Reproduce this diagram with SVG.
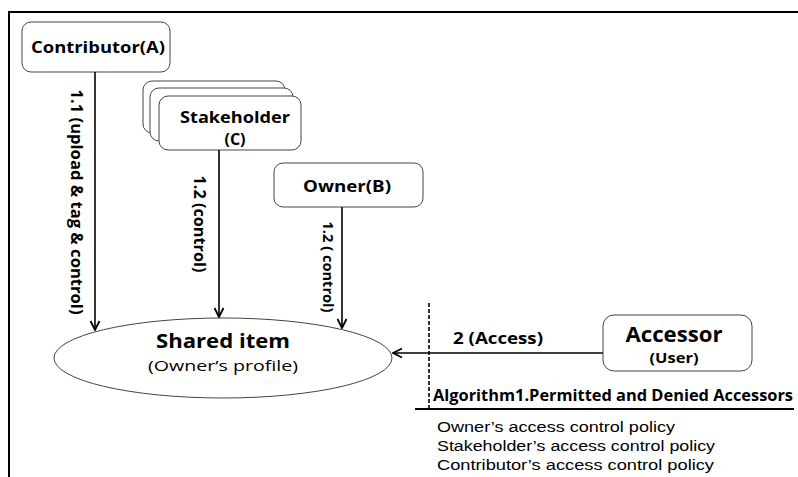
<svg xmlns="http://www.w3.org/2000/svg" width="798" height="477" viewBox="0 0 798 477">
<style>
.box{fill:#fff;stroke:#444;stroke-width:1}
.b{font-family:"Open Sans","Liberation Sans",sans-serif;font-weight:bold;fill:#000}
.r{font-family:"Open Sans","Liberation Sans",sans-serif;fill:#000}
.p{font-family:"Liberation Sans","Open Sans",sans-serif;fill:#000;font-size:15.5px}
.ln{stroke:#000;stroke-width:1.6;fill:none}
</style>
<defs>
<marker id="ah" markerWidth="12" markerHeight="12" viewBox="0 0 12 12" refX="11" refY="6" orient="auto" markerUnits="userSpaceOnUse">
<path d="M2,1.5 L11,6 L2,10.5" fill="none" stroke="#000" stroke-width="1.8"/>
</marker>
</defs>
<rect width="798" height="477" fill="#fff"/>
<g id="frame">
<line x1="8" y1="12" x2="798" y2="12" stroke="#000" stroke-width="2"/>
<line x1="9" y1="12" x2="9" y2="477" stroke="#000" stroke-width="2"/>
</g>
<g id="contributor">
<rect class="box" x="22" y="22" width="148" height="50" rx="9"/>
<text class="b" x="98" y="53" font-size="16" text-anchor="middle" textLength="134" lengthAdjust="spacingAndGlyphs">Contributor(A)</text>
</g>
<g id="stakeholder">
<rect class="box" x="143" y="81" width="142" height="52" rx="9"/>
<rect class="box" x="150" y="88" width="143" height="53" rx="9"/>
<rect class="box" x="159" y="96" width="142" height="54" rx="9"/>
<text class="b" x="235" y="123" font-size="16" text-anchor="middle" textLength="110" lengthAdjust="spacingAndGlyphs">Stakeholder</text>
<text class="b" x="235" y="145" font-size="16" text-anchor="middle">(C)</text>
</g>
<g id="owner">
<rect class="box" x="274" y="163" width="149" height="44" rx="9"/>
<text class="b" x="347" y="192" font-size="16" text-anchor="middle" textLength="88" lengthAdjust="spacingAndGlyphs">Owner(B)</text>
</g>
<g id="shared">
<ellipse cx="223" cy="358" rx="169" ry="40" fill="#fff" stroke="#444" stroke-width="1"/>
<text class="b" x="223" y="348" font-size="20" text-anchor="middle" textLength="134" lengthAdjust="spacingAndGlyphs">Shared item</text>
<text class="r" x="223" y="371" font-size="15" text-anchor="middle" textLength="150" lengthAdjust="spacingAndGlyphs">(Owner’s profile)</text>
</g>
<g id="accessor">
<rect class="box" x="603" y="315" width="149" height="56" rx="11"/>
<text class="b" x="674" y="342" font-size="21" text-anchor="middle" textLength="97" lengthAdjust="spacingAndGlyphs">Accessor</text>
<text class="b" x="674" y="363" font-size="15" text-anchor="middle" textLength="49" lengthAdjust="spacingAndGlyphs">(User)</text>
</g>
<g id="connectors">
<line class="ln" x1="95" y1="72" x2="95" y2="330" marker-end="url(#ah)"/>
<line class="ln" x1="219" y1="150" x2="219" y2="317" marker-end="url(#ah)"/>
<line class="ln" x1="342" y1="207" x2="342" y2="328" marker-end="url(#ah)"/>
<line class="ln" x1="603" y1="353" x2="393" y2="353" marker-end="url(#ah)"/>
<text class="b" font-size="16" text-anchor="middle" transform="translate(71,202) rotate(90)" textLength="225" lengthAdjust="spacingAndGlyphs">1.1 (upload &amp; tag &amp; control)</text>
<text class="b" font-size="16" text-anchor="middle" transform="translate(194,224) rotate(90)" textLength="97" lengthAdjust="spacingAndGlyphs">1.2 (control)</text>
<text class="b" font-size="15" text-anchor="middle" transform="translate(323,267) rotate(90)" textLength="91" lengthAdjust="spacingAndGlyphs">1.2 ( control)</text>
<text class="b" x="453" y="344" font-size="16" textLength="90" lengthAdjust="spacingAndGlyphs">2 (Access)</text>
</g>
<g id="algorithm">
<line x1="429" y1="303" x2="429" y2="410" stroke="#000" stroke-width="1.6" stroke-dasharray="4,2"/>
<line x1="415" y1="409" x2="794" y2="409" stroke="#000" stroke-width="2"/>
<text class="b" x="433" y="401" font-size="15.5" textLength="360" lengthAdjust="spacingAndGlyphs">Algorithm1.Permitted and Denied Accessors</text>
<text class="p" x="437" y="432" textLength="238" lengthAdjust="spacingAndGlyphs">Owner’s access control policy</text>
<text class="p" x="437" y="451" textLength="278" lengthAdjust="spacingAndGlyphs">Stakeholder’s access control policy</text>
<text class="p" x="437" y="470" textLength="277" lengthAdjust="spacingAndGlyphs">Contributor’s access control policy</text>
</g>
</svg>
